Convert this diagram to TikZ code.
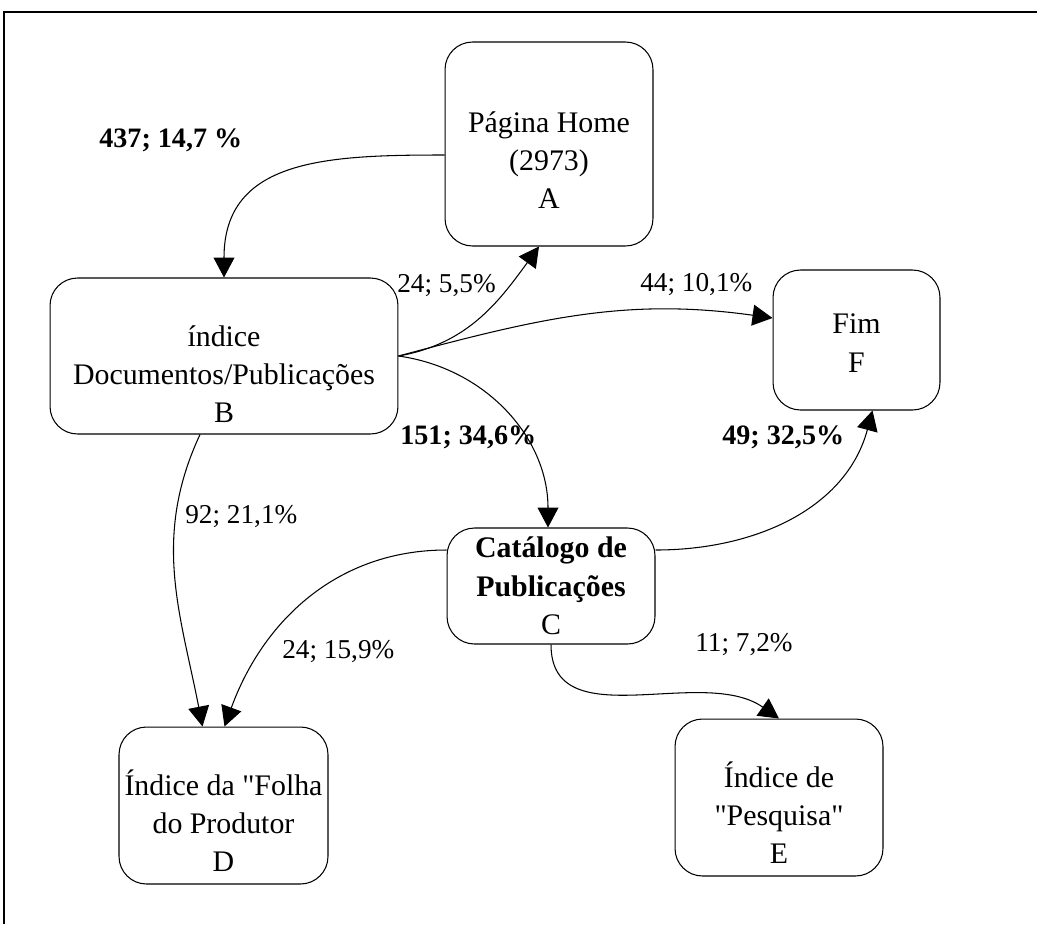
\documentclass[tikz,border=0pt]{standalone}
\usepackage{fontspec}
\setmainfont{Liberation Serif}[Ligatures=TeXOff]
\usetikzlibrary{arrows.meta,calc}

\tikzset{
    page/.style={draw, rounded corners=0.55cm, inner sep=0pt, line width=0.6pt},
    pagetext/.style={align=center, inner sep=0pt, font=\fontsize{17}{21.8}\selectfont},
    flow/.style={line width=0.6pt, -{Triangle[length=0.4cm,width=0.42cm]}},
    count/.style={anchor=west, inner sep=0pt, font=\fontsize{15.5}{18}\selectfont},
    bigcount/.style={count, font=\fontsize{16}{18}\selectfont\bfseries}
}

\begin{document}
\begin{tikzpicture}[x=0.02cm, y=-0.02cm]
        \useasboundingbox (0,0) rectangle (1037,924);
        \draw[line width=0.9pt] (4,924) -- (4,12) -- (1037,12);

        \node[page, minimum width=4.16cm, minimum height=4.08cm] (A) at (549,144) {};
        \node[page, minimum width=6.96cm, minimum height=3.12cm] (B) at (224,356) {};
        \node[page, minimum width=3.34cm, minimum height=2.8cm] (F) at (856.5,340) {};
        \node[page, minimum width=4.16cm, minimum height=2.32cm] (C) at (551,586) {};
        \node[page, minimum width=4.18cm, minimum height=3.14cm] (D) at (223.5,805.5) {};
        \node[page, minimum width=4.16cm, minimum height=3.14cm] (E) at (779,797.5) {};

        \node[pagetext] (A-txt) at ($(A.center)+(0,16)$) {Página Home\\(2973)\\A};
        \node[pagetext] (B-txt) at ($(B.center)+(0,18)$) {índice\\Documentos/Publicações\\B};
        \node[pagetext] (F-txt) at ($(F.center)+(0,3)$) {Fim\\F};
        \node[pagetext] (C-txt) at (C.center) {\textbf{Catálogo de}\\\textbf{Publicações}\\C};
        \node[pagetext] (D-txt) at ($(D.center)+(0,15)$) {Índice da "Folha\\do Produtor\\D};
        \node[pagetext] (E-txt) at ($(E.center)+(0,15)$) {Índice de\\"Pesquisa"\\E};

        \draw[flow] ($(A.west)+(0,11)$) to[out=180, in=90, looseness=1.2] (B.north);
        \draw[flow] (B.east) to[out=10, in=-126] ($(A.south)+(-10,0)$);
        \draw[flow] (B.east) to[out=15, in=172] ($(F.west)+(0,-22)$);
        \draw[flow] (B.east) to[out=-8, in=90] ($(C.north)+(-3,0)$);
        \draw[flow] ($(B.south)+(-24,0)$) to[out=-115, in=101] ($(D.north)+(-21,0)$);
        \draw[flow] ($(C.west)+(0,-36)$) to[out=180, in=70] ($(D.north)+(1,0)$);
        \draw[flow] ($(C.east)+(0,-36)$) to[out=0, in=-105] ($(F.south)+(16,0)$);
        \draw[flow] (C.south) to[out=-90, in=145] (E.north);

        \node[bigcount] (l-ab) at (99,140) {437; 14,7 \%};
        \node[count] (l-ba) at (397,286) {24; 5,5\%};
        \node[count] (l-bf) at (640,285) {44; 10,1\%};
        \node[bigcount] (l-bc) at (400,437) {151; 34,6\%};
        \node[count] (l-bd) at (185,517) {92; 21,1\%};
        \node[count] (l-cd) at (282,652) {24; 15,9\%};
        \node[bigcount] (l-cf) at (722,437) {49; 32,5\%};
        \node[count] (l-ce) at (695,645) {11; 7,2\%};
\end{tikzpicture}
\end{document}
